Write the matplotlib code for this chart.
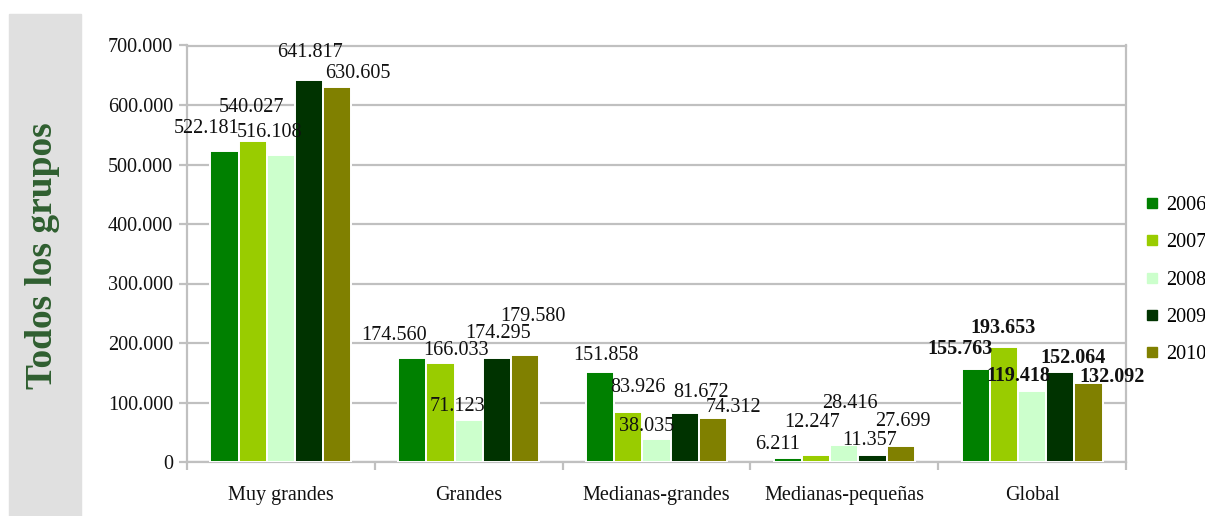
import numpy as np
import matplotlib.pyplot as plt
from matplotlib.lines import Line2D
from matplotlib.ticker import FuncFormatter, FixedLocator, NullFormatter

categories = ["Muy grandes", "Grandes", "Medianas-grandes", "Medianas-pequeñas", "Global"]
years = ["2006", "2007", "2008", "2009", "2010"]

v2006 = [522181, 174560, 151858, 6211, 155763]
v2007 = [540027, 166033, 83926, 12247, 193653]
v2008 = [516108, 71123, 38035, 28416, 119418]
v2009 = [641817, 174295, 81672, 11357, 152064]
v2010 = [630605, 179580, 74312, 27699, 132092]
series = [v2006, v2007, v2008, v2009, v2010]

colors = ["#008000", "#99cc00", "#ccffcc", "#003300", "#808000"]

# label offsets (pixels right, pixels up) from each bar top, per year
off2006 = [(-18, 23), (-18, 23), (6, 16), (-10, 14), (-16, 20)]
off2007 = [(-1, 33), (15, 13), (10, 25), (-4, 32), (-1, 19)]
off2008 = [(-11, 22), (-11, 13), (-10, 13), (6, 42), (-14, 15)]
off2009 = [(1, 28), (1, 25), (16, 21), (-3, 15), (13, 14)]
off2010 = [(21, 13), (8, 39), (21, 10), (2, 24), (24, 6)]
offsets = [off2006, off2007, off2008, off2009, off2010]

plt.rcParams["font.family"] = ["Liberation Serif", "DejaVu Serif"]
FS = 14.5
GRID = "#c0c0c0"

fig = plt.figure(figsize=(12.05, 5.16), dpi=100)

# grey band with the group title
fig.patches.append(plt.Rectangle((9 / 1205, 0), 72 / 1205, 1 - 14 / 516,
                                 transform=fig.transFigure, color="#e0e0e0", zorder=0))
fig.text(43 / 1205, 1 - 256 / 516, "Todos los grupos", rotation=90, ha="center", va="center",
         fontsize=27, fontweight="bold", color="#2f5f30")

ax = fig.add_axes([187 / 1205, 1 - 462 / 516, (1126 - 187) / 1205, (462 - 45.5) / 516])

x = np.arange(len(categories))
slot = 0.15
for i, (vals, col, offs) in enumerate(zip(series, colors, offsets)):
    xs = x + (i - 2) * slot
    ax.bar(xs, vals, width=slot, color=col, edgecolor="white", linewidth=1.4, zorder=3)
    for j, (xx, v, (dx, dy)) in enumerate(zip(xs, vals, offs)):
        ax.annotate(f"{v:,}".replace(",", "."), (xx, v), xytext=(dx, dy),
                    textcoords="offset pixels", ha="center", va="center",
                    fontsize=FS, color="#111111", zorder=5,
                    fontweight="bold" if categories[j] == "Global" else "normal")

ax.set_xlim(-0.5, len(categories) - 0.5)
ax.set_ylim(0, 700000)
ax.yaxis.set_major_locator(FixedLocator(np.arange(0, 700001, 100000)))
ax.yaxis.set_major_formatter(FuncFormatter(lambda v, p: f"{int(v):,}".replace(",", ".")))
ax.grid(True, axis="y", color=GRID, linewidth=1.6, zorder=0)
ax.set_axisbelow(True)

ax.set_xticks(x)
ax.set_xticklabels(categories)
ax.xaxis.set_minor_locator(FixedLocator(np.arange(-0.5, len(categories), 1.0)))
ax.xaxis.set_minor_formatter(NullFormatter())
ax.tick_params(axis="x", which="major", length=0, pad=17, labelsize=FS, labelcolor="#111111")
ax.tick_params(axis="x", which="minor", length=6, width=1.6, color=GRID)
ax.tick_params(axis="y", length=6, width=1.6, color=GRID, pad=4, labelsize=FS, labelcolor="#111111")

for s in ax.spines.values():
    s.set_color(GRID)
    s.set_linewidth(1.6)

handles = [Line2D([], [], marker="s", linestyle="none", markersize=6.5,
                  markerfacecolor=c, markeredgecolor=c) for c in colors]
fig.legend(handles, years, loc="center left", bbox_to_anchor=(1146 / 1205, 1 - 280 / 516),
           frameon=False, fontsize=FS, handlelength=0.6, handletextpad=0.4, labelspacing=0.9,
           borderpad=0, borderaxespad=0)

fig.savefig("out.png", dpi=100)
